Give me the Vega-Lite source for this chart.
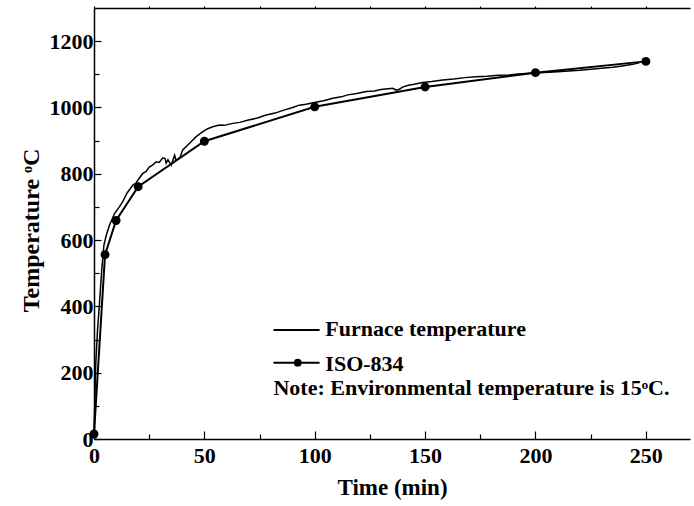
{
  "$schema": "https://vega.github.io/schema/vega-lite/v6.json",
  "width": 596,
  "height": 431,
  "autosize": "none",
  "padding": {"left": 94, "top": 8, "right": 4, "bottom": 67},
  "config": {
    "view": {"stroke": null},
    "font": "Liberation Serif",
    "axis": {
      "labelFont": "Liberation Serif", "labelFontWeight": "bold", "labelFontSize": 22, "labelColor": "black",
      "titleFont": "Liberation Serif", "titleFontWeight": "bold", "titleFontSize": 23, "titleColor": "black",
      "domainColor": "black", "domainWidth": 1.5, "tickColor": "black", "tickWidth": 1.2, "grid": false
    }
  },
  "datasets": {
    "furnace": [
      {"t":0,"v":15},{"t":0.8,"v":228},{"t":1.6,"v":329},{"t":2.5,"v":410},{"t":3.5,"v":510},{"t":4.5,"v":585},
      {"t":5.5,"v":613},{"t":7,"v":645},{"t":9.3,"v":680},{"t":11.5,"v":700},{"t":13,"v":716},{"t":15,"v":742},
      {"t":17.6,"v":766},{"t":19,"v":772},{"t":20,"v":782},{"t":22.1,"v":801},{"t":23.5,"v":806},{"t":25.1,"v":821},
      {"t":26.5,"v":826},{"t":28.2,"v":836},{"t":29.5,"v":834},{"t":31.2,"v":848},{"t":32.2,"v":846},{"t":32.7,"v":832},
      {"t":33.5,"v":842},{"t":35,"v":826},{"t":36.5,"v":856},{"t":37.2,"v":840},{"t":38,"v":844},{"t":39,"v":850},
      {"t":40.2,"v":872},{"t":43.3,"v":892},{"t":46.3,"v":912},{"t":49.3,"v":927},{"t":51.5,"v":936},{"t":53.8,"v":942},
      {"t":56.8,"v":947},{"t":59,"v":946},{"t":62.9,"v":952},{"t":66,"v":955},{"t":70,"v":962},{"t":74,"v":968},
      {"t":78,"v":977},{"t":82,"v":983},{"t":86,"v":992},{"t":90,"v":1000},{"t":93,"v":1007},{"t":96,"v":1010},
      {"t":99.9,"v":1015},{"t":104,"v":1020},{"t":108.2,"v":1028},{"t":112,"v":1032},{"t":115,"v":1038},{"t":119,"v":1042},
      {"t":123.3,"v":1048},{"t":127,"v":1050},{"t":130,"v":1054},{"t":135.3,"v":1058},{"t":137,"v":1052},{"t":138.4,"v":1055},
      {"t":140,"v":1062},{"t":142.9,"v":1068},{"t":145,"v":1070},{"t":148.9,"v":1075},{"t":153,"v":1078},{"t":158,"v":1083},
      {"t":163,"v":1086},{"t":168,"v":1090},{"t":173.1,"v":1093},{"t":178,"v":1094},{"t":183,"v":1097},{"t":188.2,"v":1098},
      {"t":192,"v":1101},{"t":197.2,"v":1103},{"t":202,"v":1105},{"t":206,"v":1106},{"t":210,"v":1108},{"t":215,"v":1110},
      {"t":220,"v":1112},{"t":225,"v":1115},{"t":230,"v":1118},{"t":235,"v":1121},{"t":240,"v":1126},{"t":244,"v":1130},
      {"t":247,"v":1135}
    ],
    "iso": [
      {"t":0,"v":15},{"t":5,"v":556},{"t":10,"v":659},{"t":20,"v":761},{"t":50,"v":898},
      {"t":100,"v":1002},{"t":150,"v":1062},{"t":200,"v":1105},{"t":250,"v":1139}
    ],
    "legendLines": [
      {"series":"Furnace temperature","t":81.3,"v":328.8},{"series":"Furnace temperature","t":102.2,"v":328.8},
      {"series":"ISO-834","t":81.3,"v":230},{"series":"ISO-834","t":102.2,"v":230}
    ],
    "legendDot": [{"t":92.3,"v":230}],
    "legendText": [
      {"t":104.8,"v":310.7,"label":"Furnace temperature"},
      {"t":104.8,"v":206,"label":"ISO-834"},
      {"t":81.3,"v":132.7,"label":"Note: Environmental temperature is 15ᵒC."}
    ]
  },
  "layer": [
    {
      "data": {"name": "furnace"},
      "mark": {"type": "line", "color": "black", "strokeWidth": 1.5},
      "encoding": {
        "x": {"field": "t", "type": "quantitative", "scale": {"domain": [0, 270], "nice": false, "zero": false},
              "axis": {"orient": "bottom", "values": [0,50,100,150,200,250], "format": "d", "tickSize": -8, "labelPadding": 14,
                       "title": "Time (min)", "titlePadding": 10, "labelFlush": false}},
        "y": {"field": "v", "type": "quantitative", "scale": {"domain": [0, 1300], "nice": false, "zero": false},
              "axis": {"orient": "left", "values": [0,200,400,600,800,1000,1200], "format": "d", "tickSize": -7, "labelPadding": 8,
                       "title": "Temperature ᵒC", "titleFontSize": 24, "titlePadding": 6, "titleY": 222, "labelFlush": false}}
      }
    },
    {
      "data": {"name": "iso"},
      "mark": {"type": "line", "color": "black", "strokeWidth": 2},
      "encoding": {
        "x": {"field": "t", "type": "quantitative",
              "axis": {"orient": "bottom", "values": [25,75,125,175,225], "tickSize": -5, "labels": false, "domain": false, "title": null}},
        "y": {"field": "v", "type": "quantitative",
              "axis": {"orient": "left", "values": [100,300,500,700,900,1100], "tickSize": -5, "labels": false, "domain": false, "title": null}}
      }
    },
    {
      "data": {"name": "iso"},
      "mark": {"type": "circle", "color": "black", "opacity": 1, "size": 80},
      "encoding": {
        "x": {"field": "t", "type": "quantitative",
              "axis": {"orient": "top", "values": [0,25,50,75,100,125,150,175,200,225,250], "tickSize": 2, "labels": false, "title": null}},
        "y": {"field": "v", "type": "quantitative", "axis": null}
      }
    },
    {
      "data": {"name": "legendLines"},
      "mark": {"type": "line", "color": "black", "strokeWidth": 1.8},
      "encoding": {
        "x": {"field": "t", "type": "quantitative", "axis": null},
        "y": {"field": "v", "type": "quantitative", "axis": null},
        "detail": {"field": "series"}
      }
    },
    {
      "data": {"name": "legendDot"},
      "mark": {"type": "circle", "color": "black", "opacity": 1, "size": 60},
      "encoding": {
        "x": {"field": "t", "type": "quantitative", "axis": null},
        "y": {"field": "v", "type": "quantitative", "axis": null}
      }
    },
    {
      "data": {"name": "legendText"},
      "mark": {"type": "text", "align": "left", "baseline": "alphabetic", "font": "Liberation Serif", "fontWeight": "bold", "fontSize": 22, "color": "black"},
      "encoding": {
        "x": {"field": "t", "type": "quantitative", "axis": null},
        "y": {"field": "v", "type": "quantitative", "axis": null},
        "text": {"field": "label"}
      }
    }
  ],
  "resolve": {"axis": {"x": "independent", "y": "independent"}}
}
